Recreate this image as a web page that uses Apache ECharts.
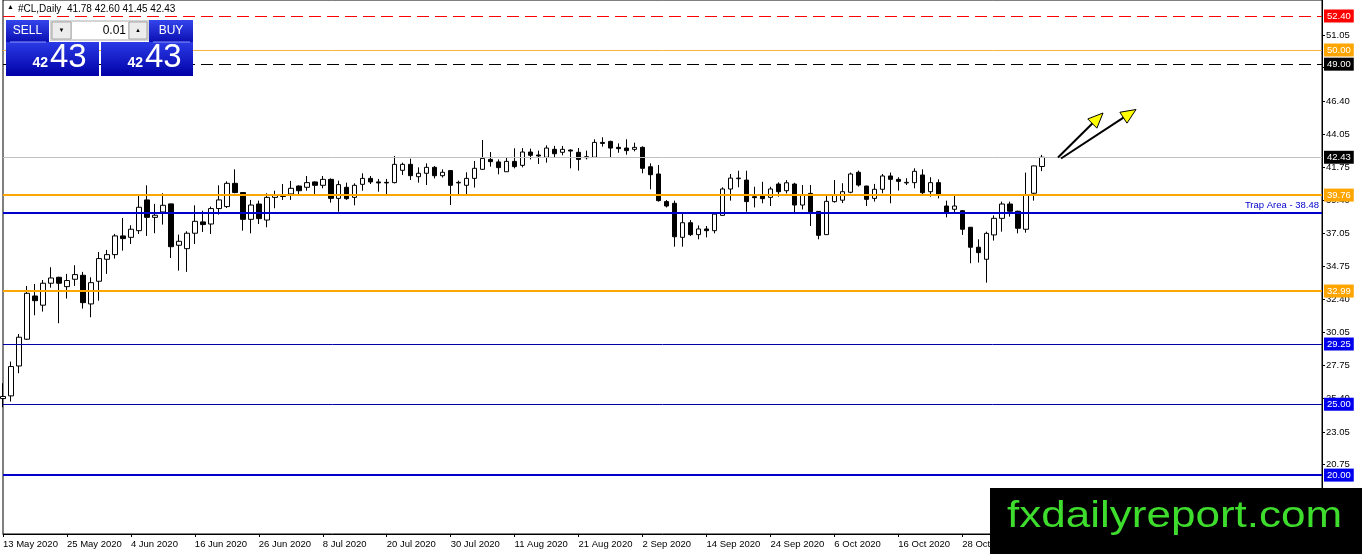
<!DOCTYPE html>
<html>
<head>
<meta charset="utf-8">
<title>#CL,Daily</title>
<script src="https://cdn.jsdelivr.net/npm/echarts@6/dist/echarts.min.js"></script>
<style>
html, body { margin: 0; padding: 0; background: #fff; }
#main { width: 1362px; height: 554px; }
</style>
</head>
<body>
<div id="main"></div>
<script>
// daily candles, 13 May 2020 .. 11 Nov 2020 (weekdays)
var opens = [25.40,25.59,27.70,29.59,32.64,31.99,33.54,33.96,33.30,33.82,34.10,32.08,33.68,35.23,35.56,36.88,36.78,37.25,39.42,38.19,
  38.57,39.14,36.22,35.98,37.07,37.87,37.72,38.81,38.95,40.59,39.94,38.05,39.13,38.00,39.60,39.66,39.84,40.40,40.31,40.69,
  40.45,40.87,39.53,40.31,39.60,40.52,40.94,40.69,40.66,40.64,41.51,41.93,41.06,41.30,41.72,41.13,41.49,40.62,40.45,40.94,
  41.58,42.28,42.10,41.41,42.14,41.86,42.80,42.59,42.43,42.99,42.78,42.94,42.78,42.40,42.43,43.48,43.55,43.13,43.08,42.99,
  43.13,41.76,41.25,39.30,39.18,36.78,37.81,36.97,37.37,37.25,38.33,40.19,40.92,40.82,39.65,39.74,39.60,40.54,40.07,40.54,
  39.06,39.88,38.61,36.97,39.30,39.40,39.96,41.37,40.40,39.53,40.17,41.11,40.87,40.62,40.64,41.18,40.00,40.64,38.99,38.76,
  38.66,37.49,36.08,35.23,36.95,38.12,39.13,38.62,37.35,39.89,41.78];
var closes = [25.55,27.66,29.73,32.83,32.31,33.54,33.91,33.54,33.73,34.15,32.17,33.58,35.28,35.56,36.88,36.69,37.35,38.90,38.19,38.34,
  39.04,36.12,36.50,37.07,37.91,37.68,38.81,39.42,40.59,39.94,38.05,39.06,38.10,39.60,39.77,39.75,40.24,40.07,40.64,40.45,
  40.87,39.53,40.50,39.51,40.45,40.94,40.69,40.62,40.62,41.93,41.93,41.13,41.30,41.72,41.13,41.37,40.45,40.66,40.94,41.65,
  42.35,42.12,41.70,42.14,41.77,42.80,42.57,42.52,43.08,42.68,42.99,42.87,42.28,42.47,43.48,43.41,43.08,43.04,42.90,43.13,
  41.65,41.20,39.37,38.99,36.82,37.81,36.97,37.37,37.25,38.42,40.19,40.96,40.96,39.30,39.58,39.51,40.19,40.00,40.63,39.06,
  39.74,38.59,36.92,39.32,39.76,40.00,41.25,40.47,39.46,40.17,41.11,40.87,40.73,40.66,41.44,39.93,40.64,39.84,38.57,38.99,
  37.35,36.08,35.70,37.06,38.12,39.13,38.62,37.42,39.77,41.82,42.43];
var lows = [24.79,25.19,27.19,29.54,31.28,31.54,33.23,30.72,32.46,33.35,31.75,31.14,32.31,34.20,35.28,35.84,36.31,37.02,36.88,37.07,
  37.68,35.32,34.43,34.34,36.31,37.16,37.02,38.38,38.85,39.89,37.25,37.06,37.72,37.49,38.83,39.42,39.42,39.84,40.07,39.84,
  40.24,39.23,38.59,39.42,39.04,40.07,40.54,40.00,39.84,40.59,41.18,40.83,40.64,40.47,40.94,41.00,39.06,39.84,39.84,40.29,
  41.53,41.77,41.23,41.41,41.65,41.72,42.28,41.96,42.05,42.43,42.57,41.65,41.49,42.28,42.38,43.18,42.43,42.75,42.61,42.85,
  41.30,40.17,39.30,38.89,36.12,36.12,36.87,36.64,36.78,37.06,38.30,39.37,40.31,38.59,38.89,39.18,38.99,39.65,39.88,38.42,
  38.75,37.58,36.64,36.95,39.23,39.20,39.89,40.36,38.99,39.30,39.89,39.18,40.08,40.47,40.24,39.84,39.65,39.53,38.19,38.52,
  36.95,34.95,35.00,33.58,36.55,37.18,38.24,37.06,37.11,39.37,41.45];
var highs = [26.48,28.01,29.96,33.35,33.49,33.77,34.67,34.00,34.20,34.81,34.34,33.96,35.75,35.89,37.02,38.15,37.63,39.70,40.45,39.14,
  39.89,39.16,36.97,37.21,39.04,38.66,38.95,40.45,40.73,41.58,39.96,39.42,39.37,39.89,40.07,40.54,40.76,40.45,41.11,40.73,
  41.11,40.94,40.78,40.64,40.59,41.30,41.11,40.90,40.90,42.52,42.05,42.33,41.72,42.00,41.81,41.58,41.53,40.78,41.37,42.17,
  43.65,42.80,42.28,42.43,43.06,43.08,43.04,42.90,43.27,43.23,43.23,42.99,43.08,42.90,43.70,43.84,43.60,43.41,43.70,43.46,
  43.20,42.00,41.88,39.41,39.37,38.42,38.00,37.62,37.58,38.52,40.31,41.25,41.48,41.48,40.35,40.70,40.35,40.66,40.82,40.63,
  40.47,40.47,38.63,39.69,40.82,40.60,41.35,41.49,40.42,40.55,41.25,41.35,41.02,40.95,41.65,41.58,41.02,40.87,39.37,39.77,
  38.71,37.51,36.64,37.18,38.33,39.30,39.30,38.66,41.35,41.84,42.60];

var tickValues = [20.75, 23.05, 25.40, 27.75, 30.05, 32.40, 34.75, 37.05, 39.40, 41.75, 44.05, 46.40, 48.75, 51.05];
var levelValues = [52.40, 50.00, 49.00, 42.43, 39.76, 38.48, 32.99, 29.25, 25.00, 20.00];
var trapLevel = 38.48;
var header = '#CL,Daily  41.78 42.60 41.45 42.43';

var months = ['Jan','Feb','Mar','Apr','May','Jun','Jul','Aug','Sep','Oct','Nov','Dec'];
var dates = [];
var d = new Date(Date.UTC(2020, 4, 13));
while (dates.length < opens.length) {
	var wd = d.getUTCDay();
	if (wd > 0 && wd < 6) dates.push(d.getUTCDate() + ' ' + months[d.getUTCMonth()] + ' ' + d.getUTCFullYear());
	d.setUTCDate(d.getUTCDate() + 1);
}
// empty space on the right like the terminal shows
var cats = dates.slice();
while (cats.length < 166) cats.push('');

var candles = [];
for (var i = 0; i < opens.length; i++) {
	candles.push([opens[i], closes[i], lows[i], highs[i]]);
}

var FONT = '"Liberation Sans", Arial, sans-serif';

// look of each level line (same order as levelValues)
var levelLook = [
	{ c: '#ff0000', w: 1, t: [12, 6], box: '#ff0000' },
	{ c: '#f5b441', w: 1, t: 'solid', box: '#ffa500' },
	{ c: '#000000', w: 1, t: [12, 6], box: '#000000' },
	{ c: '#c0c0c0', w: 1, t: 'solid', box: '#000000' },
	{ c: '#ffa500', w: 2, t: 'solid', box: '#ffa500' },
	{ c: '#0000cc', w: 2, t: 'solid', box: null },
	{ c: '#ffa500', w: 2, t: 'solid', box: '#ffa500' },
	{ c: '#0000aa', w: 1, t: 'solid', box: '#0000ee' },
	{ c: '#0000aa', w: 1, t: 'solid', box: '#0000ee' },
	{ c: '#0000cc', w: 2, t: 'solid', box: '#0000ee' }
];

var lines = [];
for (var k = 0; k < levelValues.length; k++) {
	var lk = levelLook[k];
	var item = {
		yAxis: levelValues[k],
		lineStyle: { color: lk.c, width: lk.w, type: lk.t },
		label: lk.box ? {
			show: true, position: 'end', distance: 2,
			backgroundColor: lk.box, color: '#fff',
			padding: [2, 3, 1, 3], fontSize: 9.5, fontFamily: FONT,
			formatter: function (p) { return Number(p.value).toFixed(2); }
		} : { show: false }
	};
	lines.push(item);
}
lines.push({
	yAxis: trapLevel,
	lineStyle: { color: '#0000cc', width: 2, type: 'solid' },
	label: {
		show: true, position: 'insideEndTop', distance: 3,
		color: '#0000cc', fontSize: 9.5, fontFamily: FONT,
		formatter: 'Trap Area - ' + trapLevel.toFixed(2)
	}
});

function arrow(x1, y1, x2, y2) {
	var dx = x2 - x1, dy = y2 - y1, len = Math.sqrt(dx * dx + dy * dy);
	var ux = dx / len, uy = dy / len, hl = 15, hw = 6.5;
	var bx = x2 - ux * hl, by = y2 - uy * hl;
	return [
		{ type: 'line', z: 100, shape: { x1: x1, y1: y1, x2: bx, y2: by }, style: { stroke: '#000', lineWidth: 2 } },
		{ type: 'polygon', z: 101, shape: { points: [[x2, y2], [bx + uy * hw, by - ux * hw], [bx - uy * hw, by + ux * hw]] },
			style: { fill: '#ffff00', stroke: '#000', lineWidth: 1 } }
	];
}

var blueGrad = new echarts.graphic.LinearGradient(0, 0, 0, 1, [
	{ offset: 0, color: '#3445ec' }, { offset: 1, color: '#0a0fb2' }
]);
var blueGrad2 = new echarts.graphic.LinearGradient(0, 0, 0, 1, [
	{ offset: 0, color: '#2b3be6' }, { offset: 1, color: '#0000a6' }
]);

var graphics = [
	// header
	{ type: 'text', z: 100, left: 7, top: 4, style: { text: '\u25B2', fill: '#000', font: '7px ' + FONT } },
	{ type: 'text', z: 100, left: 18, top: 4, style: { text: header, fill: '#000', font: '10px ' + FONT } },
	// trade panel
	{ type: 'rect', z: 100, shape: { x: 6, y: 20, width: 43, height: 22 }, style: { fill: blueGrad } },
	{ type: 'rect', z: 100, shape: { x: 149, y: 20, width: 44, height: 22 }, style: { fill: blueGrad } },
	{ type: 'rect', z: 100, shape: { x: 6, y: 42, width: 93, height: 34 }, style: { fill: blueGrad2 } },
	{ type: 'rect', z: 100, shape: { x: 101, y: 42, width: 92, height: 34 }, style: { fill: blueGrad2 } },
	{ type: 'line', z: 101, shape: { x1: 10, y1: 42, x2: 46, y2: 42 }, style: { stroke: '#8a96ff', lineWidth: 1 } },
	{ type: 'line', z: 101, shape: { x1: 153, y1: 42, x2: 190, y2: 42 }, style: { stroke: '#8a96ff', lineWidth: 1 } },
	{ type: 'text', z: 101, x: 27.5, y: 31, style: { text: 'SELL', fill: '#fff', font: '12px ' + FONT, align: 'center', verticalAlign: 'middle' } },
	{ type: 'text', z: 101, x: 171, y: 31, style: { text: 'BUY', fill: '#fff', font: '12px ' + FONT, align: 'center', verticalAlign: 'middle' } },
	{ type: 'rect', z: 100, shape: { x: 50, y: 20, width: 99, height: 21 }, style: { fill: '#d4d4d4' } },
	{ type: 'rect', z: 101, shape: { x: 52, y: 22, width: 19, height: 17 }, style: { fill: '#ececec', stroke: '#a8a8a8', lineWidth: 1 } },
	{ type: 'rect', z: 101, shape: { x: 72, y: 22, width: 56, height: 17 }, style: { fill: '#fff' } },
	{ type: 'rect', z: 101, shape: { x: 129, y: 22, width: 18, height: 17 }, style: { fill: '#ececec', stroke: '#a8a8a8', lineWidth: 1 } },
	{ type: 'text', z: 102, x: 61.5, y: 30.5, style: { text: '\u25BC', fill: '#000', font: '6px ' + FONT, align: 'center', verticalAlign: 'middle' } },
	{ type: 'text', z: 102, x: 138, y: 30.5, style: { text: '\u25B2', fill: '#000', font: '6px ' + FONT, align: 'center', verticalAlign: 'middle' } },
	{ type: 'text', z: 102, x: 126, y: 31, style: { text: '0.01', fill: '#000', font: '12px ' + FONT, align: 'right', verticalAlign: 'middle' } },
	{ type: 'text', z: 101, x: 48, y: 70, style: { text: '42', fill: '#fff', font: 'bold 14px ' + FONT, align: 'right', verticalAlign: 'bottom' } },
	{ type: 'text', z: 101, x: 50, y: 74, style: { text: '43', fill: '#fff', font: '33px ' + FONT, align: 'left', verticalAlign: 'bottom' } },
	{ type: 'text', z: 101, x: 143, y: 70, style: { text: '42', fill: '#fff', font: 'bold 14px ' + FONT, align: 'right', verticalAlign: 'bottom' } },
	{ type: 'text', z: 101, x: 145, y: 74, style: { text: '43', fill: '#fff', font: '33px ' + FONT, align: 'left', verticalAlign: 'bottom' } },
	// watermark
	{ type: 'rect', z: 110, shape: { x: 990, y: 488, width: 372, height: 66 }, style: { fill: '#000' } },
	{ type: 'text', z: 111, x: 1007, y: 498, scaleX: 1.19, originX: 0, originY: 0,
		style: { text: 'fxdailyreport.com', fill: '#3edc2c', font: '37px ' + FONT, align: 'left', verticalAlign: 'top' } }
].concat(arrow(1058, 157.5, 1103, 113), arrow(1061, 158.5, 1136, 109.5));

var option = {
	animation: false,
	backgroundColor: '#fff',
	textStyle: { fontFamily: FONT },
	grid: { left: 3, right: 40, top: 0, bottom: 20, show: true, borderColor: '#000', borderWidth: 1 },
	xAxis: {
		type: 'category',
		data: cats,
		boundaryGap: false,
		axisLine: { lineStyle: { color: '#000', width: 1 } },
		axisTick: { show: true, interval: 7, length: 3, lineStyle: { color: '#000' } },
		axisLabel: { interval: 7, align: 'left', margin: 5, fontSize: 9.5, color: '#000', fontFamily: FONT },
		splitLine: { show: false }
	},
	yAxis: {
		type: 'value',
		position: 'right',
		min: 15.843,
		max: 53.529,
		axisLine: { show: true, lineStyle: { color: '#000' } },
		axisTick: { show: true, length: 3, customValues: tickValues, lineStyle: { color: '#000' } },
		axisLabel: {
			customValues: tickValues, margin: 4, fontSize: 9.5, color: '#000', fontFamily: FONT,
			formatter: function (v) { return v.toFixed(2); }
		},
		splitLine: { show: false }
	},
	series: [{
		type: 'candlestick',
		data: candles,
		barWidth: 5,
		itemStyle: { color: '#fff', color0: '#000', borderColor: '#000', borderColor0: '#000', borderWidth: 1 },
		markLine: {
			silent: true,
			symbol: ['none', 'none'],
			precision: 2,
			data: lines
		}
	}],
	graphic: graphics
};

var myChart = echarts.init(document.getElementById('main'));
myChart.setOption(option);
</script>
</body>
</html>
